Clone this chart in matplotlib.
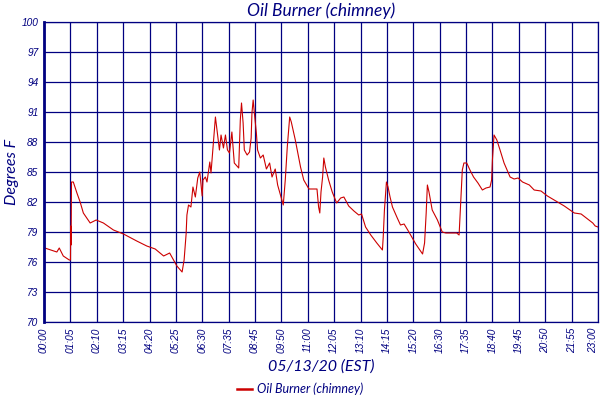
import matplotlib
matplotlib.use('agg')
import matplotlib.pyplot as plt

# minutes after midnight
minutes = [2, 32, 38, 48, 63, 66, 66.5, 67.5, 68.5, 73, 82, 90, 98, 115, 130, 148,
           173, 198, 231, 256, 277, 298, 313, 331, 344, 349, 354, 356, 360, 366,
           371, 377, 383, 388, 394, 396, 402, 406, 413, 416, 421, 427, 431, 437,
           441, 447, 452, 457, 462, 468, 474, 485, 489, 492, 496, 499, 506, 512,
           516, 518, 521, 524, 529, 532, 539, 546, 554, 562, 568, 576, 582, 596,
           601, 606, 612, 616, 626, 639, 647, 660, 680, 684, 687, 690, 694, 697,
           701, 709, 718, 729, 739, 747, 759, 772, 784, 791, 801, 814, 829, 843,
           845, 848, 853, 857, 862, 868, 880, 888, 897, 909, 926, 943, 948, 952,
           955, 959, 967, 980, 992, 1001, 1013, 1028, 1034, 1038, 1042, 1046,
           1053, 1061, 1070, 1081, 1092, 1101, 1111, 1115, 1117, 1121, 1128,
           1136, 1146, 1161, 1171, 1181, 1192, 1209, 1221, 1238, 1254, 1275,
           1296, 1321, 1338, 1354, 1367, 1373, 1380]
temps = [77.4, 77.0, 77.4, 76.6, 76.2, 76.2, 79.6, 77.7, 84.0, 84.0, 82.9, 82.0,
         80.9, 79.9, 80.2, 79.9, 79.2, 78.8, 78.1, 77.6, 77.3, 76.6, 76.9, 75.6,
         75.0, 76.2, 78.8, 80.7, 81.7, 81.5, 83.5, 82.5, 84.4, 85.0, 82.6, 84.2,
         84.5, 84.0, 86.0, 84.9, 87.5, 90.5, 89.2, 87.2, 88.7, 87.4, 88.7, 87.2,
         86.9, 89.0, 85.9, 85.4, 90.2, 91.9, 89.9, 87.2, 86.7, 87.0, 88.4, 90.9,
         92.2, 90.9, 88.9, 87.2, 86.4, 86.7, 85.3, 85.9, 84.5, 85.3, 83.7, 81.7,
         84.2, 87.5, 90.5, 90.0, 88.2, 85.5, 84.2, 83.3, 83.3, 81.5, 80.9, 83.0,
         84.5, 86.4, 85.5, 84.2, 83.0, 81.9, 82.4, 82.5, 81.6, 81.1, 80.7, 80.8,
         79.5, 78.7, 77.9, 77.2, 78.5, 81.2, 84.0, 83.5, 82.5, 81.5, 80.4, 79.7,
         79.8, 79.0, 77.8, 76.8, 77.9, 80.9, 83.7, 83.0, 81.2, 80.2, 79.0, 78.9,
         78.9, 78.9, 78.7, 82.0, 85.2, 85.9, 85.9, 85.2, 84.5, 83.9, 83.2, 83.4,
         83.5, 84.2, 86.2, 88.7, 88.2, 87.2, 85.9, 84.5, 84.3, 84.4, 84.0, 83.7,
         83.2, 83.1, 82.6, 82.1, 81.6, 80.9, 80.8, 80.3, 79.9, 79.6, 79.5]

tick_labels = ["00:00", "01:05", "02:10", "03:15", "04:20", "05:25", "06:30",
               "07:35", "08:45", "09:50", "11:00", "12:05", "13:10", "14:15",
               "15:20", "16:30", "17:35", "18:40", "19:45", "20:50", "21:55",
               "23:00"]
y_ticks = [70, 73, 76, 79, 82, 85, 88, 91, 94, 97, 100]

navy = '#000080'
big_font = ['Lato', 'DejaVu Sans']
small_font = ['Liberation Sans', 'DejaVu Sans']

fig = plt.figure(figsize=(6, 4), dpi=100)
ax = fig.add_axes([44 / 600, 1 - 322 / 400, 554 / 600, 300 / 400])

ax.plot(minutes, temps, color='#cc0000', lw=0.8, label='Oil Burner (chimney)')

span = 1380
x_ticks = [i * span / (len(tick_labels) - 1) for i in range(len(tick_labels))]
ax.set_xlim(0, span)
ax.set_ylim(70, 100)
ax.set_xticks(x_ticks)
ax.set_xticklabels(tick_labels, rotation=90, fontsize=7.3, style='italic',
                   color=navy, family=small_font)
ax.get_xticklabels()[-1].set_ha('right')
ax.set_yticks(y_ticks)
ax.set_yticklabels([str(v) for v in y_ticks], fontsize=7.3, style='italic',
                   color=navy, family=small_font)
ax.tick_params(length=0, pad=4)
ax.grid(True, color=navy, lw=0.9)
for s in ax.spines.values():
    s.set_color(navy)
    s.set_linewidth(0.9)
ax.spines['left'].set_linewidth(2.0)

ax.set_title('Oil Burner (chimney)', fontsize=12.5, style='italic', color=navy,
             family=big_font, pad=4)
fig.text(12 / 600, 1 - 172 / 400, 'Degrees F', rotation=90, ha='center',
         va='center', fontsize=11.5, style='italic', color=navy,
         family=big_font)
fig.text(321 / 600, 1 - 367 / 400, '05/13/20 (EST)', ha='center', va='center',
         fontsize=11.5, style='italic', color=navy, family=big_font)

leg = fig.legend(loc='center', bbox_to_anchor=(300 / 600, 1 - 389 / 400),
                 frameon=False, prop={'family': big_font, 'style': 'italic',
                                      'size': 9}, handlelength=1.2,
                 handletextpad=0.4)
for t in leg.get_texts():
    t.set_color(navy)
for h in leg.get_lines():
    h.set_linewidth(1.8)

fig.savefig('out.png', dpi=100)
